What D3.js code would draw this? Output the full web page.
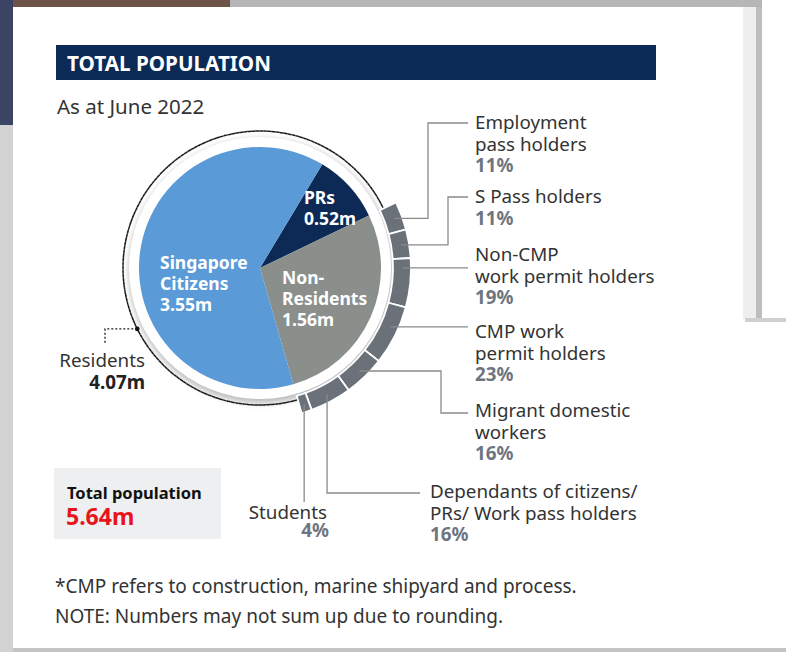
<!DOCTYPE html>
<html>
<head>
<meta charset="utf-8">
<script src="https://cdn.jsdelivr.net/npm/d3@7"></script>
<style>
  body { margin: 0; background: #d6d6d6; }
  svg { display: block; }
  text { font-family: "Noto Sans", "Open Sans", sans-serif; }
</style>
</head>
<body>
<div id="chart"></div>
<script>

var mainLabels = [["PRs", "0.52m"], ["Non-", "Residents", "1.56m"], ["Singapore", "Citizens", "3.55m"]];
var mainValues = [0.52, 1.56, 3.55];

var subLabels = [
    ["Employment", "pass holders"],
    ["S Pass holders"],
    ["Non-CMP", "work permit holders"],
    ["CMP work", "permit holders"],
    ["Migrant domestic", "workers"],
    ["Dependants of citizens/", "PRs/ Work pass holders"],
    ["Students"]
];
var subShares = [11, 11, 19, 23, 16, 16, 4];

var residentsLabel = ["Residents", "4.07m"];
var totalLabel = ["Total population", "5.64m"];
var footnotes = ["*CMP refers to construction, marine shipyard and process.",
                 "NOTE: Numbers may not sum up due to rounding."];

var W = 786, H = 652;
var cx = 260, cy = 268;
var rPie = 121, rWhite = 131, rDots = 137, rRing0 = 133, rRing1 = 151;
var deg = Math.PI / 180;

var mainColors = ["#0c2a55", "#8a8f8c", "#5a9ad6"];
var ringColor = "#6b7179";
var lineColor = "#8a8a8a";
var pctColor = "#6e7580";
var labelSize = 18.8;

var svg = d3.select("#chart").append("svg").attr("width", W).attr("height", H);

// --- backdrop: screenshot edges ---
svg.append("rect").attr("x", 0).attr("y", 0).attr("width", W).attr("height", H).attr("fill", "#ffffff");
svg.append("rect").attr("x", 0).attr("y", 0).attr("width", 762).attr("height", 7).attr("fill", "#b6b6b6");
svg.append("rect").attr("x", 0).attr("y", 0).attr("width", 230).attr("height", 7).attr("fill", "#6d5446");
svg.append("rect").attr("x", 0).attr("y", 0).attr("width", 13).attr("height", H).attr("fill", "#d2d2d2");
svg.append("rect").attr("x", 0).attr("y", 0).attr("width", 13).attr("height", 125).attr("fill", "#3c4466");
svg.append("rect").attr("x", 743).attr("y", 7).attr("width", 19).attr("height", 312).attr("fill", "#eeeeee");
svg.append("rect").attr("x", 756).attr("y", 7).attr("width", 6).attr("height", 312).attr("fill", "#bdbdbd");
svg.append("rect").attr("x", 745).attr("y", 318).attr("width", 41).attr("height", 4).attr("fill", "#cfcfcf");
svg.append("rect").attr("x", 13).attr("y", 648).attr("width", W - 13).attr("height", 4).attr("fill", "#c4c4c4");

var defs = svg.append("defs");
var blur = defs.append("filter").attr("id", "shadow").attr("x", "-20%").attr("y", "-20%").attr("width", "140%").attr("height", "140%");
blur.append("feGaussianBlur").attr("stdDeviation", 3);

// --- header ---
svg.append("rect").attr("x", 56).attr("y", 45).attr("width", 600).attr("height", 35).attr("fill", "#0b2b56");
svg.append("text").attr("x", 67).attr("y", 71)
    .attr("font-family", "'DejaVu Sans Condensed', 'DejaVu Sans', sans-serif")
    .attr("font-weight", "bold").attr("font-size", 21).attr("fill", "#ffffff")
    .attr("textLength", 204).attr("lengthAdjust", "spacingAndGlyphs")
    .text("TOTAL POPULATION");
svg.append("text").attr("x", 57).attr("y", 114).attr("font-size", 20.5).attr("fill", "#333")
    .text("As at June 2022");

// --- main pie ---
var start = 31 * deg;
var pie = d3.pie().sort(null).startAngle(start).endAngle(start + 2 * Math.PI);
var mainArcs = pie(mainValues);

var g = svg.append("g").attr("transform", "translate(" + cx + "," + cy + ")");

g.append("circle").attr("r", rWhite + 1).attr("cx", 1).attr("cy", 3).attr("fill", "#9a9a9a")
    .attr("filter", "url(#shadow)").attr("opacity", 0.7);
g.append("circle").attr("r", rWhite).attr("fill", "#ffffff");

var arcMain = d3.arc().innerRadius(0).outerRadius(rPie);
g.selectAll("path.main").data(mainArcs).enter().append("path")
    .attr("class", "main")
    .attr("d", arcMain)
    .attr("fill", function(d, i) { return mainColors[i]; });

// residents dotted arc (citizens + PRs)
var nonRes = mainArcs[1];
var dotArc = d3.arc().innerRadius(rDots).outerRadius(rDots)
    .startAngle(nonRes.endAngle).endAngle(nonRes.startAngle + 2 * Math.PI);
g.append("path").attr("d", dotArc()).attr("fill", "none")
    .attr("stroke", "#1a1a1a").attr("stroke-width", 1.5).attr("stroke-dasharray", "2,2");

// outer ring: breakdown of non-residents
var subPie = d3.pie().sort(null).startAngle(nonRes.startAngle).endAngle(nonRes.endAngle);
var subArcs = subPie(subShares);
var arcRing = d3.arc().innerRadius(rRing0).outerRadius(rRing1);
g.selectAll("path.ring").data(subArcs).enter().append("path")
    .attr("class", "ring")
    .attr("d", arcRing)
    .attr("fill", ringColor)
    .attr("stroke", "#ffffff").attr("stroke-width", 1.8);

// pie labels
var mainLabelPos = [[304, 198], [282, 278], [160, 263]];
mainLabels.forEach(function(lines, i) {
    lines.forEach(function(s, j) {
        svg.append("text").attr("x", mainLabelPos[i][0]).attr("y", mainLabelPos[i][1] + 6 + j * 21)
            .attr("font-size", 17.5).attr("font-weight", "bold").attr("fill", "#ffffff").text(s);
    });
});

// --- leader lines and labels for the ring ---
function ringPoint(d, frac, r) {
    var a = d.startAngle + (d.endAngle - d.startAngle) * frac;
    return [cx + r * Math.sin(a), cy - r * Math.cos(a)];
}

// route: "h" horizontal to label, "hvh" elbow at ex up/down to ly, "vh" down then right, "v" straight down
var leaders = [
    {frac: 0.5, type: "hvh", ex: 428, ly: 123, lx: 468, tx: 475, ty: 123},
    {frac: 0.5, type: "hvh", ex: 448, ly: 197, lx: 468, tx: 475, ty: 197},
    {frac: 0.2, type: "h", lx: 468, tx: 475, ty: 255},
    {frac: 0.4, type: "h", lx: 468, tx: 475, ty: 332},
    {frac: 0.5, type: "hvh", ex: 441, ly: 413, lx: 468, tx: 475, ty: 411},
    {frac: 0.5, type: "vh", ly: 493, lx: 420, tx: 430, ty: 492},
    {frac: 0.5, type: "v", ly: 502, tx: 327, ty: 513, anchor: "end"}
];

var lineGen = d3.line();
subArcs.forEach(function(d, i) {
    var L = leaders[i];
    var p = ringPoint(d, L.frac, 143);
    var pts;
    if (L.type == "h") pts = [p, [L.lx, p[1]]];
    else if (L.type == "hvh") pts = [p, [L.ex, p[1]], [L.ex, L.ly], [L.lx, L.ly]];
    else if (L.type == "vh") pts = [p, [p[0], L.ly], [L.lx, L.ly]];
    else pts = [p, [p[0], L.ly]];
    svg.append("path").attr("d", lineGen(pts)).attr("fill", "none")
        .attr("stroke", lineColor).attr("stroke-width", 1.3);

    var anchor = L.anchor || "start";
    var lines = subLabels[i];
    var lh = (i == 6) ? 18 : 21.5;
    lines.forEach(function(s, j) {
        svg.append("text").attr("x", L.tx).attr("y", L.ty + 6 + j * lh)
            .attr("font-size", labelSize).attr("fill", "#333").attr("text-anchor", anchor).text(s);
    });
    svg.append("text").attr("x", anchor == "end" ? L.tx + 2 : L.tx).attr("y", L.ty + 6 + lines.length * lh)
        .attr("font-size", labelSize).attr("font-weight", "bold").attr("fill", pctColor)
        .attr("text-anchor", anchor).text(subShares[i] + "%");
});

// residents callout
var ra = 243.6 * deg;
var rp = [cx + rDots * Math.sin(ra), cy - rDots * Math.cos(ra)];
svg.append("path").attr("d", lineGen([rp, [105, rp[1]], [105, 343]])).attr("fill", "none")
    .attr("stroke", "#1a1a1a").attr("stroke-width", 1.3).attr("stroke-dasharray", "2,2");
svg.append("circle").attr("cx", rp[0]).attr("cy", rp[1]).attr("r", 2.3).attr("fill", "#111");
svg.append("text").attr("x", 145).attr("y", 367).attr("font-size", labelSize).attr("fill", "#333")
    .attr("text-anchor", "end").text(residentsLabel[0]);
svg.append("text").attr("x", 145).attr("y", 389).attr("font-size", labelSize).attr("font-weight", "bold")
    .attr("fill", "#222").attr("text-anchor", "end").text(residentsLabel[1]);

// total population box
svg.append("rect").attr("x", 54).attr("y", 468).attr("width", 167).attr("height", 71).attr("fill", "#eeeff0");
svg.append("text").attr("x", 67).attr("y", 499).attr("font-size", 16.5).attr("font-weight", "bold")
    .attr("fill", "#111").text(totalLabel[0]);
svg.append("text").attr("x", 66).attr("y", 525).attr("font-size", 23).attr("font-weight", "bold")
    .attr("fill", "#e8141c").text(totalLabel[1]);

// footnotes
footnotes.forEach(function(s, i) {
    svg.append("text").attr("x", 55).attr("y", 593 + i * 30).attr("font-size", 19)
        .attr("fill", "#333").text(s);
});

</script>
</body>
</html>
